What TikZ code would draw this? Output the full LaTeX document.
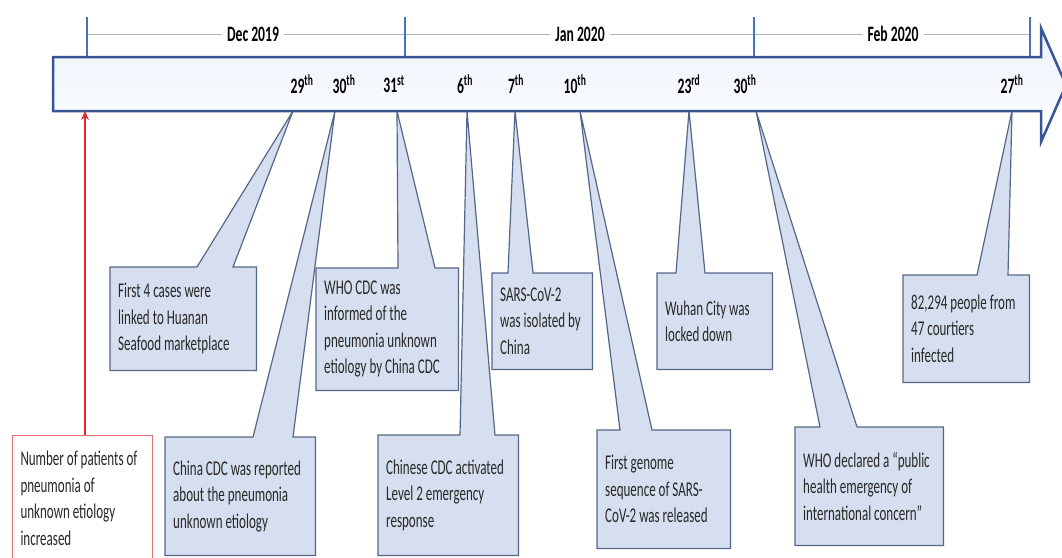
\documentclass[tikz,border=0pt]{standalone}
\usepackage{fontspec}
\setmainfont{Carlito}[FakeStretch=0.62]
\usepackage{tikz}
\usetikzlibrary{positioning, arrows.meta, backgrounds}
\usepackage{xcolor}
\definecolor{calfill}{RGB}{214,223,239}
\definecolor{calline}{RGB}{86,102,136}
\definecolor{arrline}{RGB}{56,86,150}
\definecolor{arrtop}{RGB}{234,242,251}
\definecolor{tickblue}{RGB}{68,114,196}
\definecolor{monthgray}{RGB}{172,182,192}
\definecolor{redline}{RGB}{222,44,44}
\definecolor{redbox}{RGB}{232,112,112}
\definecolor{txt}{RGB}{40,40,40}
\newcommand\evtfont{\fontsize{21pt}{26.5pt}\selectfont\hyphenpenalty=10000\relax\exhyphenpenalty=10000\relax}
\tikzstyle{redarrow} = [draw=redline, line width=1.2pt, -{Stealth[length=9pt, width=8pt]}]
\tikzstyle{callout} = [draw=calline, fill=calfill, line width=1.2pt, line join=miter]

\begin{document}
\begin{tikzpicture}[x=1pt, y=-1pt,
    evt/.style={anchor=north west, text width=#1, align=flush left, inner xsep=8pt, inner ysep=0pt, text=txt, font=\evtfont},
    day/.style={inner sep=0pt, font=\bfseries\fontsize{22pt}{22pt}\selectfont},
    month/.style={fill=white, inner xsep=5pt, inner ysep=1pt, font=\bfseries\fontsize{22pt}{22pt}\selectfont}
  ]
  \useasboundingbox (0,0) rectangle (1062,557);
  \clip (0,0) rectangle (1062,557);

  \foreach \x/\y in {87/405, 405/754, 754/1030}
    \draw[monthgray, line width=0.8pt] (\x,34) -- (\y,34);
  \foreach \x in {87,405,754,1030}
    \draw[tickblue, line width=2pt] (\x,17) -- (\x,57);
  \node[month] (dec) at (253,34) {Dec 2019};
  \node[month] (jan) at (580,34) {Jan 2020};
  \node[month] (feb) at (893,34) {Feb 2020};

  \draw[arrline, line width=2.5pt, line join=miter, top color=arrtop, bottom color=white]
    (53,57) -- (1041,57) -- (1041,28) -- (1066,85) -- (1041,142) -- (1041,111) -- (53,111) -- cycle;

  \node[day] (l29) at (302,84) {29\textsuperscript{th}};
  \node[day] (l30) at (344,84) {30\textsuperscript{th}};
  \node[day] (l31) at (394,84) {31\textsuperscript{st}};
  \node[day] (l6) at (465,84) {6\textsuperscript{th}};
  \node[day] (l7) at (516,84) {7\textsuperscript{th}};
  \node[day] (l10) at (575,84) {10\textsuperscript{th}};
  \node[day] (l23) at (689,84) {23\textsuperscript{rd}};
  \node[day] (l30b) at (745,84) {30\textsuperscript{th}};
  \node[day] (l27) at (1012,84) {27\textsuperscript{th}};

  \coordinate (onset) at (85,111);
  \coordinate (d29) at (293,111);
  \coordinate (d30) at (335,111);
  \coordinate (d31) at (397,111);
  \coordinate (j6) at (467,111);
  \coordinate (j7) at (515,111);
  \coordinate (j10) at (580,111);
  \coordinate (j23) at (689,111);
  \coordinate (j30) at (756,111);
  \coordinate (f27) at (1012,111);

  \node[evt=130pt, minimum height=103pt] (e1) at (110,267) {First 4 cases were\\linked to Huanan\\Seafood marketplace};
  \node[evt=134pt, minimum height=118pt] (e2) at (165,437) {China CDC was reported\\about the pneumonia\\unknown etiology};
  \node[evt=126pt, minimum height=122pt] (e3) at (316,268) {WHO CDC was\\informed of the\\pneumonia unknown\\etiology by China CDC};
  \node[evt=124pt, minimum height=120pt] (e4) at (378,435) {Chinese CDC activated\\Level 2 emergency\\response};
  \node[evt=84pt, minimum height=96pt] (e5) at (492,273) {SARS-CoV-2\\was isolated by\\China};
  \node[evt=117pt, minimum height=118pt] (e6) at (597,430) {First genome\\sequence of SARS-\\CoV-2 was released};
  \node[evt=99pt, minimum height=96pt] (e7) at (657,273) {Wuhan City was\\locked down};
  \node[evt=132pt, minimum height=118pt] (e8) at (795,427) {WHO declared a ``public\\health emergency of\\international concern''};
  \node[evt=110pt, minimum height=107pt] (e9) at (903,275) {82,294 people from\\47 courtiers\\infected};

  \begin{scope}[on background layer]
    \draw[callout] (e1.north west) -- ([xshift=87pt]e1.north west) -- (d29) -- ([xshift=123pt]e1.north west) -- (e1.north east) -- (e1.south east) -- (e1.south west) -- cycle;
    \draw[callout] (e2.north west) -- ([xshift=88pt]e2.north west) -- (d30) -- ([xshift=128pt]e2.north west) -- (e2.north east) -- (e2.south east) -- (e2.south west) -- cycle;
    \draw[callout] (e3.north west) -- ([xshift=82pt]e3.north west) -- (d31) -- ([xshift=119pt]e3.north west) -- (e3.north east) -- (e3.south east) -- (e3.south west) -- cycle;
    \draw[callout] (e4.north west) -- ([xshift=82pt]e4.north west) -- (j6) -- ([xshift=117pt]e4.north west) -- (e4.north east) -- (e4.south east) -- (e4.south west) -- cycle;
    \draw[callout] (e5.north west) -- ([xshift=16pt]e5.north west) -- (j7) -- ([xshift=41pt]e5.north west) -- (e5.north east) -- (e5.south east) -- (e5.south west) -- cycle;
    \draw[callout] (e6.north west) -- ([xshift=23pt]e6.north west) -- (j10) -- ([xshift=55pt]e6.north west) -- (e6.north east) -- (e6.south east) -- (e6.south west) -- cycle;
    \draw[callout] (e7.north west) -- ([xshift=19pt]e7.north west) -- (j23) -- ([xshift=48pt]e7.north west) -- (e7.north east) -- (e7.south east) -- (e7.south west) -- cycle;
    \draw[callout] (e8.north west) -- ([xshift=25pt]e8.north west) -- (j30) -- ([xshift=62pt]e8.north west) -- (e8.north east) -- (e8.south east) -- (e8.south west) -- cycle;
    \draw[callout] (e9.north west) -- ([xshift=74pt]e9.north west) -- (f27) -- ([xshift=105pt]e9.north west) -- (e9.north east) -- (e9.south east) -- (e9.south west) -- cycle;
  \end{scope}

  \node[evt=124pt, minimum height=126pt, draw=redbox, line width=1pt, fill=white] (rbox) at (12,435) {Number of patients of\\pneumonia of\\unknown etiology\\increased};
  \draw[redarrow] (onset |- rbox.north) -- (onset);

\end{tikzpicture}
\end{document}
